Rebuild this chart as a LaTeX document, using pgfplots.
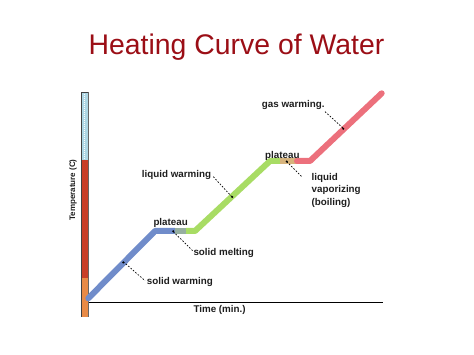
\documentclass[border=0pt]{standalone}
\usepackage{fontspec}
\setmainfont{Liberation Sans}
\usepackage{pgfplots}
\pgfplotsset{compat=1.18}
\definecolor{titlered}{RGB}{155,14,22}
\definecolor{solidblue}{RGB}{112,140,202}
\definecolor{mixgrey}{RGB}{150,175,160}
\definecolor{liqgreen}{RGB}{168,220,100}
\definecolor{boiltan}{RGB}{215,180,125}
\definecolor{gaspink}{RGB}{236,112,124}
\definecolor{thermblue}{RGB}{175,215,228}
\definecolor{thermred}{RGB}{200,62,40}
\definecolor{thermorange}{RGB}{232,138,70}
\definecolor{labelblack}{RGB}{30,30,30}
\begin{document}
\begin{tikzpicture}
\useasboundingbox (0,0) rectangle (474pt,355pt);
\begin{axis}[
  at={(86pt,52.3pt)}, anchor=south west,
  scale only axis, width=297pt, height=210.7pt,
  xmin=0, xmax=297, ymin=0, ymax=210.7,
  hide axis, clip=false,
]
% x axis line
\draw[line width=1.3pt, black] (axis cs:0,0) -- (axis cs:297,0);
% thermometer
\fill[thermorange] (axis cs:-5,-14.3) rectangle (axis cs:2,24.7);
\fill[thermred] (axis cs:-5,24.7) rectangle (axis cs:2,142.7);
\fill[thermblue] (axis cs:-5,142.7) rectangle (axis cs:2,210.7);
\draw[white, line width=1pt, dash pattern=on 1pt off 1pt] (axis cs:-1.5,144) -- (axis cs:-1.5,209.5);
\draw[line width=0.8pt, black!75] (axis cs:-5,-14.3) -- (axis cs:-5,210.7) -- (axis cs:2,210.7);
\draw[line width=0.6pt, black!60] (axis cs:2,-14.3) -- (axis cs:2,210.7);
% heating curve
\addplot[solidblue, line width=6pt, line join=round, line cap=round] coordinates {(2.3,4.4) (69,71.7) (89,71.7)};
\addplot[mixgrey, line width=6pt] coordinates {(89,71.7) (100,71.7)};
\addplot[liqgreen, line width=6pt, line join=round] coordinates {(100,71.7) (109,71.7) (184,141.7) (194,141.7)};
\addplot[boiltan, line width=6pt] coordinates {(194,141.7) (211,141.7)};
\addplot[gaspink, line width=6pt, line join=round, line cap=round] coordinates {(211,141.7) (224,141.7) (295.7,209.4)};
\end{axis}
\begin{scope}[x=1pt, y=-1pt, shift={(0pt,355pt)}]
\node[anchor=base, text=titlered, font=\fontsize{28.4}{32}\selectfont, inner sep=0pt] at (236.5,55) {Heating Curve of Water};
\tikzset{lab/.style={anchor=west, inner sep=0pt, text=labelblack, font=\fontsize{9.8}{11}\selectfont\bfseries}}
\node[lab] at (261.7,105) {gas warming.};
\node[lab] at (265,156) {plateau};
\node[lab] at (311.5,178.3) {liquid};
\node[lab] at (311.5,190.3) {vaporizing};
\node[lab] at (311.5,202.7) {(boiling)};
\node[lab] at (141.7,175) {liquid warming};
\node[lab] at (153.3,223.3) {plateau};
\node[lab] at (193.3,252.7) {solid melting};
\node[lab] at (146.7,282.3) {solid warming};
\node[lab] at (193.3,310) {Time (min.)};
\node[inner sep=0pt, text=labelblack, rotate=90, font=\fontsize{8}{9}\selectfont\bfseries] at (73,190) {Temperature (C)};
% leader lines
\tikzset{lead/.style={black, line width=0.7pt, dash pattern=on 1.6pt off 1.6pt}}
\draw[lead] (325,111.7) -- (343.3,128.3); \fill (343.3,128.8) circle (1.1);
\draw[lead] (286.7,161.7) -- (302.3,177.3); \fill (286.7,161.5) circle (1.1);
\draw[lead] (213.3,176.7) -- (232.3,197.3); \fill (232.3,197) circle (1.1);
\draw[lead] (173.3,231.7) -- (192.7,250.7); \fill (173.3,231.3) circle (1.1);
\draw[lead] (123.3,261.7) -- (145,280.7); \fill (123.3,262.5) circle (1.1);
\end{scope}
\end{tikzpicture}
\end{document}
